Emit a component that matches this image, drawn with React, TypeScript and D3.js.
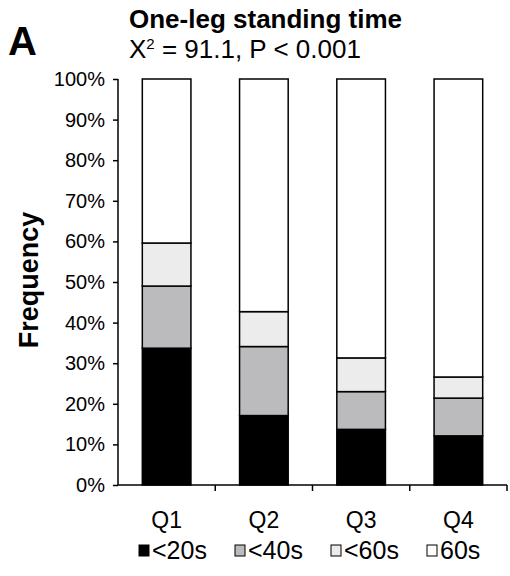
import React, { useEffect, useRef } from 'react';
import * as d3 from 'd3';

const W = 510, H = 576;
const MARGIN = { top: 79, right: 3, bottom: 91, left: 118 };
const INNER_W = W - MARGIN.left - MARGIN.right;
const INNER_H = H - MARGIN.top - MARGIN.bottom;

const categories = ['Q1', 'Q2', 'Q3', 'Q4'];
const seriesNames = ['<20s', '<40s', '<60s', '60s'];
const lt20 = [33.7, 17.1, 13.7, 12.1];
const lt40 = [15.3, 17.0, 9.3, 9.3];
const lt60 = [10.6, 8.6, 8.3, 5.2];
const s60 = [40.4, 57.3, 68.7, 73.4];
const yTicks = [0, 10, 20, 30, 40, 50, 60, 70, 80, 90, 100];
const colors = ['#000000', '#bbbbbd', '#ececec', '#ffffff'];

const FONT = '"Liberation Sans", Arial, Helvetica, sans-serif';

export default function App() {
  const ref = useRef<SVGSVGElement>(null);

  useEffect(() => {
    const svg = d3.select(ref.current);
    svg.selectAll('*').remove();

    const rows = categories.map((c, i) => ({ cat: c, '<20s': lt20[i], '<40s': lt40[i], '<60s': lt60[i], '60s': s60[i] }));
    const stack = d3.stack<any>().keys(seriesNames)(rows);

    const x = d3.scaleBand().domain(categories).range([0, INNER_W]).paddingInner(0.5).paddingOuter(0.25);
    const y = d3.scaleLinear().domain([0, 100]).range([INNER_H, 0]);

    const g = svg.append('g').attr('transform', `translate(${MARGIN.left},${MARGIN.top})`);

    // Bars
    stack.forEach((layer, li) => {
      g.append('g')
        .selectAll('rect')
        .data(layer)
        .join('rect')
        .attr('x', d => x(d.data.cat)!)
        .attr('width', x.bandwidth())
        .attr('y', d => y(d[1]))
        .attr('height', d => y(d[0]) - y(d[1]))
        .attr('fill', colors[li])
        .attr('stroke', '#000')
        .attr('stroke-width', 1.5);
    });

    // Y axis
    const yAxis = g.append('g')
      .call(d3.axisLeft(y).tickValues(yTicks).tickSize(5).tickPadding(8).tickFormat(d => `${d}%`));
    yAxis.selectAll('path, line').attr('stroke', '#000').attr('stroke-width', 1.5);
    yAxis.select('.domain').attr('d', `M0,0V${INNER_H}`);
    yAxis.selectAll('text').attr('font-family', FONT).attr('font-size', 20).attr('fill', '#000');

    // X axis
    const step = INNER_W / categories.length;
    const xAxis = g.append('g').attr('transform', `translate(0,${INNER_H})`);
    xAxis.append('line').attr('x1', 0).attr('x2', INNER_W).attr('stroke', '#000').attr('stroke-width', 1.5);
    xAxis.selectAll('line.tick')
      .data(categories.map((_, i) => (i + 1) * step))
      .join('line')
      .attr('class', 'tick')
      .attr('x1', d => d).attr('x2', d => d)
      .attr('y1', 0).attr('y2', 6)
      .attr('stroke', '#000').attr('stroke-width', 1.5);
    xAxis.selectAll('text')
      .data(categories)
      .join('text')
      .attr('x', d => x(d)! + x.bandwidth() / 2)
      .attr('y', 43)
      .attr('text-anchor', 'middle')
      .attr('font-family', FONT).attr('font-size', 23)
      .text(d => d);

    // Y title
    svg.append('text')
      .attr('transform', `translate(38,${MARGIN.top + INNER_H / 2 - 2}) rotate(-90)`)
      .attr('text-anchor', 'middle')
      .attr('font-family', FONT).attr('font-size', 27).attr('font-weight', 'bold')
      .text('Frequency');

    // Panel letter + titles
    svg.append('text')
      .attr('x', 8).attr('y', 55)
      .attr('font-family', FONT).attr('font-size', 40).attr('font-weight', 'bold')
      .text('A');
    svg.append('text')
      .attr('x', 129).attr('y', 28)
      .attr('font-family', FONT).attr('font-size', 26).attr('font-weight', 'bold')
      .text('One-leg standing time');
    const sub = svg.append('text')
      .attr('x', 129).attr('y', 58)
      .attr('font-family', FONT).attr('font-size', 26);
    sub.append('tspan').text('X');
    sub.append('tspan').attr('font-size', 15).attr('dy', -9).text('2');
    sub.append('tspan').attr('dy', 9).text(' = 91.1, P < 0.001');

    // Legend
    const legendX = [139, 235, 331, 427];
    const lg = svg.append('g').attr('transform', 'translate(0,559)');
    seriesNames.forEach((name, i) => {
      lg.append('rect')
        .attr('x', legendX[i]).attr('y', -14)
        .attr('width', 10).attr('height', 11)
        .attr('fill', colors[i]).attr('stroke', '#000').attr('stroke-width', 1);
      lg.append('text')
        .attr('x', legendX[i] + 13).attr('y', 0)
        .attr('font-family', FONT).attr('font-size', 25)
        .text(name);
    });
  }, []);

  return (
    <svg ref={ref} width={W} height={H} style={{ position: 'absolute', left: 0, top: 0, background: '#fff' }} />
  );
}
